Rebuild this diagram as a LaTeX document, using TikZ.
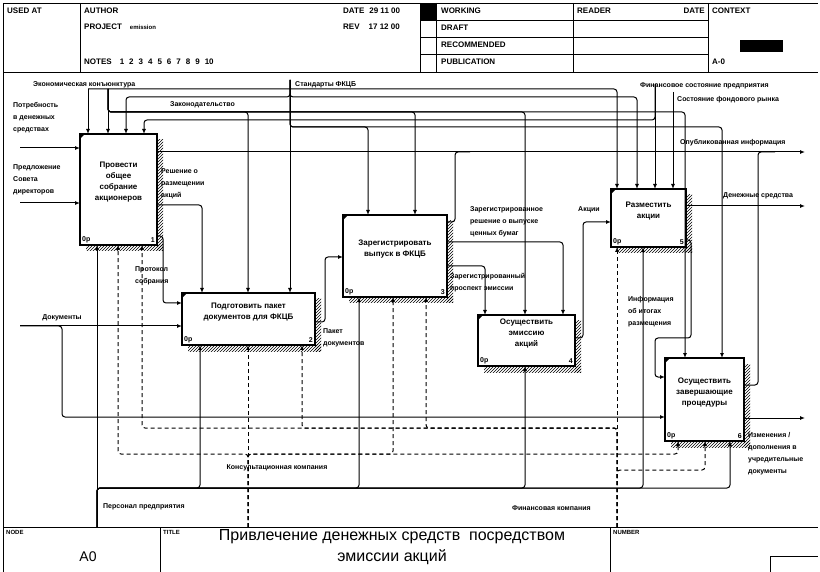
\documentclass[tikz,border=0pt]{standalone}
\usepackage{fontspec}
\setmainfont{Liberation Sans}
\usetikzlibrary{arrows.meta,patterns}

\begin{document}
\begin{tikzpicture}[x=1pt,y=-1pt,
  frame/.style={line width=0.8pt},
  arr/.style={line width=1pt, rounded corners=3pt, -{Latex[length=5pt,width=4pt]}},
  conn/.style={line width=1pt, rounded corners=3pt},
  dsh/.style={dash pattern=on 4pt off 3pt},
  idefbox/.style={draw, fill=white, line width=1.8pt, inner sep=0pt, outer sep=0pt},
  boxtxt/.style={font=\fontsize{8}{11}\selectfont\bfseries, align=center, inner sep=0pt},
  tag/.style={font=\fontsize{7}{8}\selectfont\bfseries, inner sep=2pt},
  lbl/.style={font=\fontsize{7}{12}\selectfont\bfseries, align=left, inner sep=0pt, anchor=west},
  hdr/.style={font=\fontsize{8}{9}\selectfont\bfseries, inner sep=0pt, anchor=west}]
\useasboundingbox (0,0) rectangle (820,572);
\fill[white] (0,0) rectangle (820,572);

% frame and header
\draw[frame] (3,572) -- (3,3) -- (818,3);
\draw[frame] (3,72) -- (818,72);
\draw[frame] (80,3) -- (80,72);
\draw[frame] (420,3) -- (420,72);
\draw[frame] (436,3) -- (436,72);
\draw[frame] (573,3) -- (573,72);
\draw[frame] (708,3) -- (708,72);
\foreach \y in {20,37,54}
  \draw[frame] (420,\y) -- (708,\y);
\fill (420,3) rectangle (436,20);
\fill (740,40) rectangle (783,52);

\node[hdr] (usedat) at (7,11) {USED AT};
\node[hdr] (author) at (84,11) {AUTHOR};
\node[hdr] (project) at (84,27) {PROJECT\hspace{8pt}{\fontsize{6}{6}\selectfont emission}};
\node[hdr] (notes) at (84,62) {NOTES\hspace{8pt}1\hspace{5pt}2\hspace{5pt}3\hspace{5pt}4\hspace{5pt}5\hspace{5pt}6\hspace{5pt}7\hspace{5pt}8\hspace{5pt}9\hspace{5pt}10};
\node[hdr] (date) at (343,11) {DATE\hspace{5pt}29 11 00};
\node[hdr] (rev) at (343,27) {REV\hspace{9pt}17 12 00};
\node[hdr] (working) at (441,11) {WORKING};
\node[hdr] (draft) at (441,28) {DRAFT};
\node[hdr] (recom) at (441,45) {RECOMMENDED};
\node[hdr] (publ) at (441,62) {PUBLICATION};
\node[hdr] (reader) at (577,11) {READER};
\node[hdr, anchor=east] (rdate) at (705,11) {DATE};
\node[hdr] (context) at (712,11) {CONTEXT};
\node[hdr] (ctxnode) at (712,62) {A-0};

% footer
\draw[frame] (3,527) -- (818,527);
\draw[frame] (160,527) -- (160,572);
\draw[frame] (610,527) -- (610,572);
\draw[frame] (770,572) |- (818,556);
\node[hdr, font=\fontsize{6}{6}\selectfont\bfseries] (nodelbl) at (6,532) {NODE};
\node[hdr, font=\fontsize{6}{6}\selectfont\bfseries] (titlelbl) at (163,532) {TITLE};
\node[hdr, font=\fontsize{6}{6}\selectfont\bfseries] (numlbl) at (613,532) {NUMBER};
\node[font=\fontsize{14}{14}\selectfont, inner sep=0pt] (nodeno) at (88,557) {A0};
\node[font=\fontsize{16}{21}\selectfont, align=center, inner sep=0pt] (title) at (392,547)
  {Привлечение денежных средств\ \ посредством\\эмиссии акций};

% activity boxes
\foreach \n/\xa/\ya/\xb/\yb/\k/\t in {
  b1/80/134/157/245/1/{Провести\\общее\\собрание\\акционеров},
  b2/182/293/315/345/2/{Подготовить пакет\\документов для ФКЦБ},
  b3/343/215/447/297/3/{Зарегистрировать\\выпуск в ФКЦБ},
  b4/478/315/575/366/4/{Осуществить\\эмиссию\\акций},
  b5/611/189/686/247/5/{Разместить\\акции},
  b6/665/358/744/441/6/{Осуществить\\завершающие\\процедуры}}{
  \fill[pattern=north east lines] (\xb,\ya+6) rectangle (\xb+6,\yb+6);
  \fill[pattern=north east lines] (\xa+6,\yb) rectangle (\xb+6,\yb+6);
  \node[idefbox, minimum width={(\xb-\xa)*1pt}, minimum height={(\yb-\ya)*1pt}]
    (\n) at ({(\xa+\xb)/2},{(\ya+\yb)/2}) {};
  \fill (\n.north west) -- ++(5,0) -- ++(-5,5) -- cycle;
  \node[boxtxt, yshift=7pt] (\n txt) at (\n) {\t};
  \node[tag, anchor=south west] (\n op) at (\n.south west) {0p};
  \node[tag, anchor=south east] (\n no) at (\n.south east) {\k};
}

% boundary points
\coordinate (econ) at (88,89);
\coordinate (zakon) at (108,89);
\coordinate (stand) at (290,80);
\coordinate (finst) at (655,84);
\coordinate (rynok) at (673,92);
\coordinate (potr) at (20,148);
\coordinate (predl) at (20,203);
\coordinate (docs) at (20,326);
\coordinate (pubinf) at (805,152);
\coordinate (money) at (805,206);
\coordinate (izm) at (805,418);
\coordinate (pers) at (97,527);
\coordinate (kons) at (248,527);
\coordinate (fink) at (617,527);

% controls
\draw[arr] (econ) -- (b1.north -| econ);
\draw[arr] (econ) -| (b5.north -| 617,0);
\draw[arr] (zakon) -- (b1.north -| zakon);
\foreach \x/\b in {248/b2,415/b3,525/b4,685/b6}
  \draw[arr] (zakon) |- (\x,112) -- (\b.north -| \x,0);
\draw[arr] (stand) -- (b2.north -| stand);
\foreach \x/\b in {126/b1,637/b5}
  \draw[arr] (stand) |- (\x,97) -- (\b.north -| \x,0);
\foreach \x/\b in {368/b3,722/b6}
  \draw[arr] (stand) |- (\x,127) -- (\b.north -| \x,0);
\draw[arr] (finst) -- (b5.north -| finst);
\draw[arr] (finst) |- (144,120) -- (b1.north -| 144,0);
\draw[arr] (rynok) -- (b5.north -| rynok);

% inputs
\draw[arr] (potr) -- (potr -| b1.west);
\draw[arr] (predl) -- (predl -| b1.west);
\draw[arr] (docs) -- (docs -| b2.west);
\draw[arr] (docs) -| (62,417) -- (b6.west |- 0,417);

% outputs
\draw[arr] (b1.east |- 0,152) -- (pubinf);
\draw[conn] (b3.east |- 0,222) -| (455,152) -- (470,152);
\draw[conn] (b6.east |- 0,385) -| (758,152) -- (775,152);
\draw[arr] (b1.east |- 0,205) -| (b2.north -| 202,0);
\draw[arr] (b1.east |- 0,236) -| (163,303) -- (b2.west |- 0,303);
\draw[arr] (b2.east |- 0,322) -| (325,257) -- (b3.west |- 0,257);
\draw[arr] (b3.east |- 0,242) -| (b4.north -| 563,0);
\draw[arr] (b3.east |- 0,266) -| (b4.north -| 485,0);
\draw[arr] (b4.east |- 0,338) -| (583,222) -- (b5.west |- 0,222);
\draw[arr] (b5.east |- 0,206) -- (money);
\draw[arr] (b5.east |- 0,240) -| (691,338) -| (655,377) -- (b6.west |- 0,377);
\draw[arr] (b6.east |- 0,418) -- (izm);

% mechanisms
\draw[arr] (pers) -- (b1.south -| pers);
\foreach \x/\b in {200/b2,359/b3,525/b4,643/b5,730/b6}
  \draw[arr] (pers) |- (\x,488) -- (\b.south -| \x,0);
\draw[arr,dsh] (kons) -- (b2.south -| kons);
\foreach \x/\b in {118/b1,393/b3,678/b6}
  \draw[arr,dsh] (kons) |- (\x,454) -- (\b.south -| \x,0);
\draw[arr,dsh] (fink) -- (b5.south -| fink);
\foreach \x/\b in {142/b1,302/b2,426/b3}
  \draw[arr,dsh] (fink) |- (\x,428) -- (\b.south -| \x,0);
\draw[arr,dsh] (fink) |- (705,470) -- (b6.south -| 705,0);

% arrow labels
\node[lbl] (lecon) at (33,85) {Экономическая конъюнктура};
\node[lbl] (lzakon) at (170,105) {Законодательство};
\node[lbl] (lstand) at (295,85) {Стандарты ФКЦБ};
\node[lbl] (lfinst) at (640,86) {Финансовое состояние предприятия};
\node[lbl] (lrynok) at (677,100) {Состояние фондового рынка};
\node[lbl] (lpotr) at (13,118) {Потребность\\в денежных\\средствах};
\node[lbl] (lpredl) at (13,180) {Предложение\\Совета\\директоров};
\node[lbl, anchor=center] (ldocs) at (62,318) {Документы};
\node[lbl] (lpubinf) at (680,143) {Опубликованная информация};
\node[lbl] (lmoney) at (723,196) {Денежные средства};
\node[lbl] (lresh) at (161,184) {Решение о\\размещении\\акций};
\node[lbl] (lprot) at (135,276) {Протокол\\собрания};
\node[lbl] (lpaket) at (323,338) {Пакет\\документов};
\node[lbl] (lzreg) at (470,222) {Зарегистрированное\\решение о выпуске\\ценных бумаг};
\node[lbl] (lprosp) at (450,283) {Зарегистрированный\\проспект эмиссии};
\node[lbl] (lakcii) at (578,210) {Акции};
\node[lbl] (linfo) at (628,312) {Информация\\об итогах\\размещения};
\node[lbl] (lizm) at (748,454) {Изменения /\\дополнения в\\учредительные\\документы};
\node[lbl, anchor=center] (lkons) at (277,468) {Консультационная компания};
\node[lbl] (lpers) at (103,507) {Персонал предприятия};
\node[lbl] (lfink) at (512,508) {Финансовая компания};
\end{tikzpicture}
\end{document}
